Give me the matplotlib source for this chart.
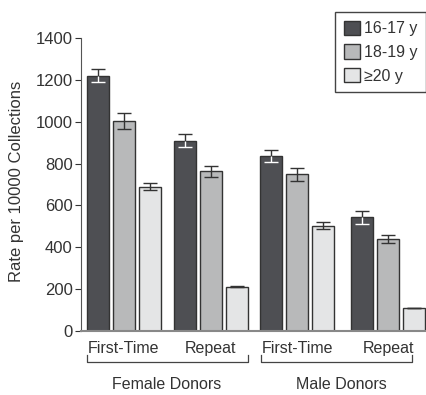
import numpy as np
import matplotlib
matplotlib.use("Agg")
import matplotlib.pyplot as plt
from matplotlib.patches import Patch

plt.rcParams['font.family'] = ['Liberation Sans', 'DejaVu Sans']

groups = ["First-Time", "Repeat", "First-Time", "Repeat"]
donors = ["Female Donors", "Male Donors"]
ages = ["16-17 y", "18-19 y", "\u226520 y"]
rate_16_17 = [1220, 910, 835, 543]
rate_18_19 = [1005, 763, 748, 441]
rate_20 = [690, 212, 503, 108]
err_16_17 = [30, 30, 28, 30]
err_18_19 = [38, 25, 32, 20]
err_20 = [17, 4, 18, 0]

rates = [rate_16_17, rate_18_19, rate_20]
errs = [err_16_17, err_18_19, err_20]
colors = ["#4e4f53", "#b8b9ba", "#e4e5e6"]
edge = "#333333"
txt = "#333333"

fig = plt.figure(figsize=(4.27, 3.95), dpi=100)
ax = fig.add_axes([81 / 427, 1 - 331 / 395, 346 / 427, 293 / 395])

centers = np.array([1.65, 5.0, 8.31, 11.81])
offsets = [-1.0, 0.0, 1.0]
width = 0.84
cap = 0.27

for i in range(3):
    x = centers + offsets[i]
    v = np.array(rates[i], dtype=float)
    e = np.array(errs[i], dtype=float)
    ax.bar(x, v, width, color=colors[i], edgecolor=edge, linewidth=1.0, zorder=2)
    # inside dark bars the lower half of the error bar is white
    low = "white" if i == 0 else edge
    ax.vlines(x, v, v + e, color=edge, lw=1.0, zorder=3)
    ax.hlines(v + e, x - cap, x + cap, color=edge, lw=1.0, zorder=3)
    ax.vlines(x, v - e, v, color=low, lw=1.0, zorder=3)
    ax.hlines(v - e, x - cap, x + cap, color=low, lw=1.0, zorder=3)

ax.set_xlim(0, 13.31)
ax.set_ylim(0, 1400)
ax.set_yticks(range(0, 1401, 200))
ax.tick_params(axis='y', labelsize=12, colors=txt, length=4, width=0.8, pad=2)
ax.set_xticks(centers)
ax.set_xticklabels(groups)
ax.tick_params(axis='x', labelsize=11.5, colors=txt, length=0, pad=7)
for s in ["top", "right"]:
    ax.spines[s].set_visible(False)
ax.spines["left"].set_color("#555555")
ax.spines["left"].set_linewidth(0.8)
ax.spines["bottom"].set_color("#888888")
ax.spines["bottom"].set_linewidth(1.5)
ax.set_ylabel("Rate per 10000 Collections", fontsize=12, color=txt)
ax.yaxis.set_label_coords(-0.165, 0.509)

# group brackets under the tick labels
tr = ax.get_xaxis_transform()
brackets = [(0.23, 6.42), (6.92, 12.73)]
for (x0, x1), name in zip(brackets, donors):
    ax.plot([x0, x0, x1, x1], [-0.082, -0.105, -0.105, -0.082], transform=tr,
            color="#444444", lw=0.9, clip_on=False)
ax.text(3.31, -0.184, donors[0], transform=tr, ha="center", va="center",
        fontsize=11.5, color=txt)
ax.text(10.0, -0.184, donors[1], transform=tr, ha="center", va="center",
        fontsize=11.5, color=txt)

handles = [Patch(facecolor=colors[i], edgecolor=edge, linewidth=1.0) for i in range(3)]
leg = fig.legend(handles, ages, loc="upper right", bbox_to_anchor=(426 / 427, 1 - 12 / 395),
                 bbox_transform=fig.transFigure, borderaxespad=0, fontsize=11.5,
                 handlelength=1.0, handleheight=1.0, handletextpad=0.25,
                 labelspacing=0.5, borderpad=0.55, fancybox=False, framealpha=1)
leg.get_frame().set_edgecolor("#444444")
leg.get_frame().set_linewidth(1.0)
for t in leg.get_texts():
    t.set_color(txt)

fig.savefig("out.png", dpi=100)
